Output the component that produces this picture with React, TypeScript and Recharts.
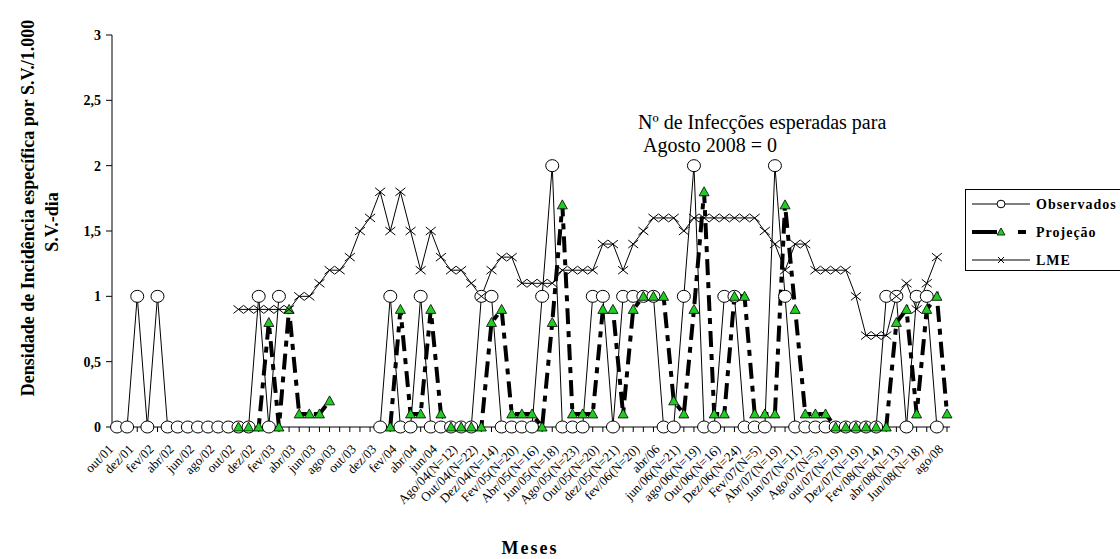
import React from 'react';
import { LineChart, Line, XAxis, YAxis } from 'recharts';

const months: string[] = [
  'out/01', 'nov/01', 'dez/01', 'jan/02', 'fev/02', 'mar/02', 'abr/02', 'mai/02', 'jun/02', 'jul/02',
  'ago/02', 'set/02', 'out/02', 'nov/02', 'dez/02', 'jan/03', 'fev/03', 'mar/03', 'abr/03', 'mai/03',
  'jun/03', 'jul/03', 'ago/03', 'set/03', 'out/03', 'nov/03', 'dez/03', 'jan/04', 'fev/04', 'mar/04',
  'abr/04', 'mai/04', 'jun/04', 'jul/04', 'Ago/04(N=12)', 'set/04', 'Out/04(N=22)', 'nov/04', 'Dez/04(N=14)', 'jan/05',
  'Fev/05(N=20)', 'mar/05', 'Abr/05(N=16)', 'mai/05', 'Jun/05(N=18)', 'jul/05', 'Ago/05(N=23)', 'set/05', 'Out/05(N=20)', 'nov/05',
  'dez/05(N=21)', 'jan/06', 'fev/06(N=20)', 'mar/06', 'abr/06', 'mai/06', 'jun/06(N=21)', 'jul/06', 'ago/06(N=19)', 'set/06',
  'Out/06(N=16)', 'nov/06', 'Dez/06(N=24)', 'jan/07', 'Fev/07(N=5)', 'mar/07', 'Abr/07(N=19)', 'mai/07', 'Jun/07(N=11)', 'jul/07',
  'Ago/07(N=5)', 'set/07', 'out/07(N=19)', 'nov/07', 'Dez/07(N=19)', 'jan/08', 'Fev/08(N=14)', 'mar/08', 'abr/08(N=13)', 'mai/08',
  'Jun/08(N=18)', 'jul/08', 'ago/08',
];

const observados: (number | null)[] = [
  0, 0, 1, 0, 1, 0, 0, 0, 0, 0,
  0, 0, 0, 0, 1, 0, 1, null, null, null,
  null, null, null, null, null, null, 0, 1, 0, 0,
  1, 0, 0, 0, 0, 0, 1, 1, 0, 0,
  0, 0, 1, 2, 0, 0, 0, 1, 1, 0,
  1, 1, 1, 1, 0, 0, 1, 2, 0, 0,
  1, 1, 0, 0, 0, 2, 1, 0, 0, 0,
  0, 0, 0, 0, 0, 0, 1, 1, 0, 1,
  1, 0, null,
];

const projecao: (number | null)[] = [
  null, null, null, null, null, null, null, null, null, null,
  null, null, 0, 0, 0, 0.8, 0, 0.9, 0.1, 0.1,
  0.1, 0.2, null, null, null, null, null, 0, 0.9, 0.1,
  0.1, 0.9, 0.1, 0, 0, 0, 0, 0.8, 0.9, 0.1,
  0.1, 0.1, 0, 0.8, 1.7, 0.1, 0.1, 0.1, 0.9, 0.9,
  0.1, 0.9, 1.0, 1.0, 1.0, 0.2, 0.1, 0.9, 1.8, 0.1,
  0.1, 1.0, 1.0, 0.1, 0.1, 0.1, 1.7, 0.9, 0.1, 0.1,
  0.1, 0, 0, 0, 0, 0, 0, 0.8, 0.9, 0.1,
  0.9, 1.0, 0.1,
];

const lme: (number | null)[] = [
  null, null, null, null, null, null, null, null, null, null,
  null, null, 0.9, 0.9, 0.9, 0.9, 0.9, 0.9, 1.0, 1.0,
  1.1, 1.2, 1.2, 1.3, 1.5, 1.6, 1.8, 1.5, 1.8, 1.5,
  1.2, 1.5, 1.3, 1.2, 1.2, 1.1, 1.0, 1.2, 1.3, 1.3,
  1.1, 1.1, 1.1, 1.1, 1.2, 1.2, 1.2, 1.2, 1.4, 1.4,
  1.2, 1.4, 1.5, 1.6, 1.6, 1.6, 1.5, 1.6, 1.6, 1.6,
  1.6, 1.6, 1.6, 1.6, 1.5, 1.4, 1.2, 1.4, 1.4, 1.2,
  1.2, 1.2, 1.2, 1.0, 0.7, 0.7, 0.7, 1.0, 1.1, 0.9,
  1.1, 1.3, null,
];

const yTicks: number[] = [0, 0.5, 1, 1.5, 2, 2.5, 3];

const seriesNames = ['Observados', 'Projeção', 'LME'];
const yTitle = ['Densidade de Incidência específica por S.V./1.000', 'S.V.-dia'];
const xTitle = 'Meses';
const note = ['Nº de Infecções esperadas para', 'Agosto 2008 = 0'];

const data = months.map((m, i) => ({
  month: m,
  obs: observados[i],
  proj: projecao[i],
  lme: lme[i],
}));

const FONT = '"Liberation Serif", "Times New Roman", serif';
const GREEN = '#22cc22';

const CircleDot = (props: any) => {
  const { cx, cy, value, index } = props;
  if (value == null || cx == null || cy == null || isNaN(cy)) return <g key={`o-${index}`} />;
  return <ellipse key={`o-${index}`} cx={cx} cy={cy} rx={6.5} ry={6} fill="#fff" stroke="#000" strokeWidth={1} />;
};

const TriDot = (props: any) => {
  const { cx, cy, value, index } = props;
  if (value == null || cx == null || cy == null || isNaN(cy)) return <g key={`p-${index}`} />;
  const pts = `${cx},${cy - 5} ${cx - 5},${cy + 4} ${cx + 5},${cy + 4}`;
  return <polygon key={`p-${index}`} points={pts} fill={GREEN} stroke="#000" strokeWidth={0.8} strokeDasharray="none" />;
};

const CrossDot = (props: any) => {
  const { cx, cy, value, index } = props;
  if (value == null || cx == null || cy == null || isNaN(cy)) return <g key={`l-${index}`} />;
  return (
    <g key={`l-${index}`}>
      <line x1={cx - 5} y1={cy - 4} x2={cx + 5} y2={cy + 4} stroke="#000" strokeWidth={1} />
      <line x1={cx - 5} y1={cy + 4} x2={cx + 5} y2={cy - 4} stroke="#000" strokeWidth={1} />
    </g>
  );
};

const MonthTick = (props: any) => {
  const { x, y, payload, index } = props;
  const idx = payload && payload.index != null ? payload.index : index;
  if (idx % 2 !== 0) return <g />;
  const ax = x - 3;
  const ay = y + 16;
  return (
    <text
      x={ax}
      y={ay}
      textAnchor="end"
      transform={`rotate(-45, ${ax}, ${ay})`}
      fontFamily={FONT}
      fontSize={13}
      fill="#000"
    >
      {payload.value}
    </text>
  );
};

const fmtY = (v: number) => String(v).replace('.', ',');

export default function App() {
  return (
    <div style={{ position: 'absolute', left: 0, top: 0, width: 1120, height: 559, background: '#fff', fontFamily: FONT }}>
      <LineChart
        width={1120}
        height={559}
        data={data}
        margin={{ top: 35, right: 170, left: 0, bottom: 0 }}
      >
        <XAxis
          dataKey="month"
          interval={0}
          height={132}
          tick={<MonthTick />}
          tickSize={5}
          padding={{ left: 5, right: 3 }}
          axisLine={{ stroke: '#000', strokeWidth: 1 }}
          tickLine={{ stroke: '#000' }}
        />
        <XAxis
          xAxisId="top"
          dataKey="month"
          orientation="top"
          height={0}
          tick={false}
          tickLine={false}
          axisLine={{ stroke: '#888', strokeWidth: 1.5 }}
        />
        <YAxis
          width={112}
          domain={[0, 3]}
          ticks={yTicks}
          tickFormatter={fmtY}
          tickSize={6}
          tickMargin={5}
          interval={0}
          tick={{ fontFamily: FONT, fontWeight: 'bold', fontSize: 14, fill: '#000' }}
          axisLine={{ stroke: '#000', strokeWidth: 1 }}
          tickLine={{ stroke: '#000' }}
        />
        <YAxis
          yAxisId="right"
          orientation="right"
          width={0}
          domain={[0, 3]}
          tick={false}
          tickLine={false}
          axisLine={{ stroke: '#000', strokeWidth: 1.5 }}
        />
        <Line
          dataKey="obs"
          name={seriesNames[0]}
          stroke="#000"
          strokeWidth={1}
          dot={<CircleDot />}
          isAnimationActive={false}
          connectNulls={false}
        />
        <Line
          dataKey="proj"
          name={seriesNames[1]}
          stroke="#000"
          strokeWidth={4}
          strokeDasharray="16 7 6 7"
          dot={<TriDot />}
          isAnimationActive={false}
          connectNulls={false}
        />
        <Line
          dataKey="lme"
          name={seriesNames[2]}
          stroke="#000"
          strokeWidth={1}
          dot={<CrossDot />}
          isAnimationActive={false}
          connectNulls={false}
        />
      </LineChart>
      <svg
        width={1120}
        height={559}
        style={{ position: 'absolute', left: 0, top: 0, pointerEvents: 'none' }}
      >
        <g fontFamily={FONT} fontWeight="bold" fontSize={18} fill="#000">
          <text transform="translate(34,208) rotate(-90)" textAnchor="middle">{yTitle[0]}</text>
          <text transform="translate(58,222) rotate(-90)" textAnchor="middle">{yTitle[1]}</text>
          <text x={530} y={554} textAnchor="middle" letterSpacing={2}>{xTitle}</text>
        </g>
        <g fontFamily={FONT} fontSize={20} fill="#000">
          <text x={638} y={129}>{note[0]}</text>
          <text x={643} y={152}>{note[1]}</text>
        </g>
        <g>
          <rect x={965.5} y={189.5} width={170} height={81} fill="#fff" stroke="#000" strokeWidth={1} />
          <line x1={972} y1={204} x2={1030} y2={204} stroke="#000" strokeWidth={1} />
          <ellipse cx={1001} cy={204} rx={4} ry={3.8} fill="#fff" stroke="#000" strokeWidth={1} />
          <line x1={972} y1={232} x2={997} y2={232} stroke="#000" strokeWidth={4} />
          <line x1={1018} y1={232} x2={1026} y2={232} stroke="#000" strokeWidth={4} />
          <polygon points="1001,228 997,235 1005,235" fill={GREEN} stroke="#000" strokeWidth={0.8} />
          <line x1={972} y1={260} x2={1030} y2={260} stroke="#000" strokeWidth={1} />
          <line x1={998} y1={257} x2={1004} y2={263} stroke="#000" strokeWidth={1} />
          <line x1={998} y1={263} x2={1004} y2={257} stroke="#000" strokeWidth={1} />
          <g fontFamily={FONT} fontWeight="bold" fontSize={14} fill="#000" letterSpacing={1}>
            <text x={1036} y={209}>{seriesNames[0]}</text>
            <text x={1036} y={237}>{seriesNames[1]}</text>
            <text x={1036} y={265}>{seriesNames[2]}</text>
          </g>
        </g>
      </svg>
    </div>
  );
}
